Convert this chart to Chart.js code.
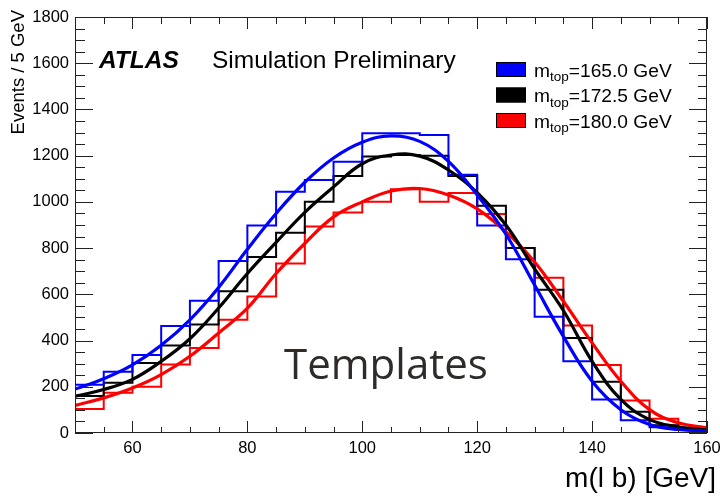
<!DOCTYPE html>
<html><head><meta charset="utf-8">
<script src="https://cdn.jsdelivr.net/npm/chart.js@4.4.1/dist/chart.umd.min.js"></script>
<style>html,body{margin:0;padding:0;background:#fff;}#wrap{width:720px;height:497px;position:relative;}</style>
</head><body><div id="wrap"><canvas id="c" width="720" height="497"></canvas></div>
<script>
// ---- data ----
const binLow = [50,55,60,65,70,75,80,85,90,95,100,105,110,115,120,125,130,135,140,145,150,155];
const binWidth = 5;
const hist165  = [209,265,338,463,572,744,898,1044,1095,1174,1297,1297,1289,1117,898,752,503,310,145,55,25,15];
const hist1725 = [160,217,303,379,469,613,761,867,1001,1112,1196,1203,1200,1112,983,800,620,411,222,92,34,18];
const hist180  = [104,174,200,296,368,490,591,733,893,954,1001,1055,1001,1038,948,800,672,465,294,141,62,22];
const fitX     = [50,55,60,65,70,75,80,85,90,95,100,105,110,115,120,125,130,135,140,145,150,155,160];
const fit165   = [190,235,295,380,490,630,795,950,1085,1190,1258,1286,1262,1175,1030,860,640,418,224,101,37,15,8];
const fit1725  = [159,188,232,310,408,541,690,825,955,1065,1165,1203,1198,1138,1040,900,710,530,310,145,58,27,12];
const fit180   = [119,152,195,253,332,433,540,690,820,935,1000,1047,1058,1030,970,870,740,570,390,224,101,44,22];
const seriesMasses = ['165.0','172.5','180.0'];
const seriesColors = ['#0000ff','#000000','#ff0000'];
const xTickLabels = [60,80,100,120,140,160];
const yTickLabels = [0,200,400,600,800,1000,1200,1400,1600,1800];
const xTitle = 'm(l b) [GeV]';
const yTitle = 'Events / 5 GeV';

// ---- build datasets ----
function histPoints(vals){
  const pts = binLow.map((x,i)=>({x:x,y:vals[i]}));
  pts.push({x:binLow[binLow.length-1]+binWidth,y:vals[vals.length-1]});
  return pts;
}
function fitPoints(vals){ return fitX.map((x,i)=>({x:x,y:vals[i]})); }
const hists=[hist165,hist1725,hist180], fits=[fit165,fit1725,fit180];
const datasets=[];
for(let i=0;i<3;i++){
  datasets.push({data:histPoints(hists[i]),borderColor:seriesColors[i],borderWidth:2,stepped:'before',pointRadius:0,fill:false,order:2});
}
for(let i=0;i<3;i++){
  datasets.push({data:fitPoints(fits[i]),borderColor:seriesColors[i],borderWidth:3.2,tension:0.4,pointRadius:0,fill:false,order:1});
}

const FONT='"Liberation Sans", Arial, Helvetica, sans-serif';
const deco={
  id:'deco',
  afterDatasetsDraw(chart){
    const ctx=chart.ctx, a=chart.chartArea, xs=chart.scales.x, ys=chart.scales.y;
    ctx.save();
    ctx.strokeStyle='#222'; ctx.lineWidth=1;
    ctx.strokeRect(a.left+0.5,a.top+0.5,a.right-a.left-1,a.bottom-a.top-1);
    ctx.beginPath();
    for(let v=50; v<=160; v+=5){
      const px=Math.round(xs.getPixelForValue(v))+0.5;
      const major=(v%20===0);
      ctx.moveTo(px,a.bottom); ctx.lineTo(px,a.bottom-(major?12:6));
      ctx.moveTo(px,a.top); ctx.lineTo(px,a.top+(major?12:7));
    }
    for(let v=0; v<=1800; v+=50){
      const py=Math.round(ys.getPixelForValue(v))+0.5;
      const major=(v%200===0);
      ctx.moveTo(a.left,py); ctx.lineTo(a.left+(major?18:10),py);
      ctx.moveTo(a.right,py); ctx.lineTo(a.right-(major?18:9),py);
    }
    ctx.stroke();
    ctx.fillStyle='#000';
    ctx.font='16.5px '+FONT;
    ctx.textAlign='right'; ctx.textBaseline='middle';
    yTickLabels.forEach(v=>ctx.fillText(String(v),69,ys.getPixelForValue(v)));
    ctx.textAlign='center'; ctx.textBaseline='top';
    xTickLabels.forEach(v=>ctx.fillText(String(v),xs.getPixelForValue(v),440));
    ctx.font='28px '+FONT;
    ctx.textAlign='right'; ctx.textBaseline='alphabetic';
    ctx.fillText(xTitle,716,487);
    ctx.save();
    ctx.translate(24,10); ctx.rotate(-Math.PI/2);
    ctx.font='18.5px '+FONT; ctx.textAlign='right'; ctx.textBaseline='alphabetic';
    ctx.fillText(yTitle,0,0);
    ctx.restore();
    ctx.textAlign='left'; ctx.textBaseline='alphabetic';
    ctx.font='italic bold 24.5px '+FONT;
    ctx.fillText('ATLAS',99,68);
    ctx.font='24.5px '+FONT;
    ctx.fillText('Simulation Preliminary',212,68);
    const boxY=[62,87.5,113];
    for(let i=0;i<3;i++){
      ctx.fillStyle=seriesColors[i];
      ctx.fillRect(496,boxY[i],30,15);
      ctx.strokeStyle='#000'; ctx.lineWidth=1;
      ctx.strokeRect(496.5,boxY[i]+0.5,29,14);
      ctx.fillStyle='#000';
      let x=534, base=boxY[i]+14.5;
      ctx.font='19.2px '+FONT; ctx.fillText('m',x,base); x+=ctx.measureText('m').width;
      ctx.font='13.5px '+FONT; ctx.fillText('top',x,base+4.5); x+=ctx.measureText('top').width;
      ctx.font='19.2px '+FONT; ctx.fillText('='+seriesMasses[i]+' GeV',x,base);
    }
    ctx.fillStyle='#2e2b28';
    ctx.font='42px "Open Sans", sans-serif';
    ctx.textAlign='left';
    ctx.fillText('Templates',284,379);
    ctx.restore();
  }
};

new Chart(document.getElementById('c'),{
  type:'line',
  data:{datasets:datasets},
  options:{
    responsive:false, animation:false, events:[],
    layout:{padding:{left:75,top:17,right:13,bottom:64}},
    plugins:{legend:{display:false},tooltip:{enabled:false},title:{display:false}},
    scales:{
      x:{type:'linear',min:50,max:160,display:false},
      y:{type:'linear',min:0,max:1800,display:false}
    }
  },
  plugins:[deco]
});
</script></body></html>
